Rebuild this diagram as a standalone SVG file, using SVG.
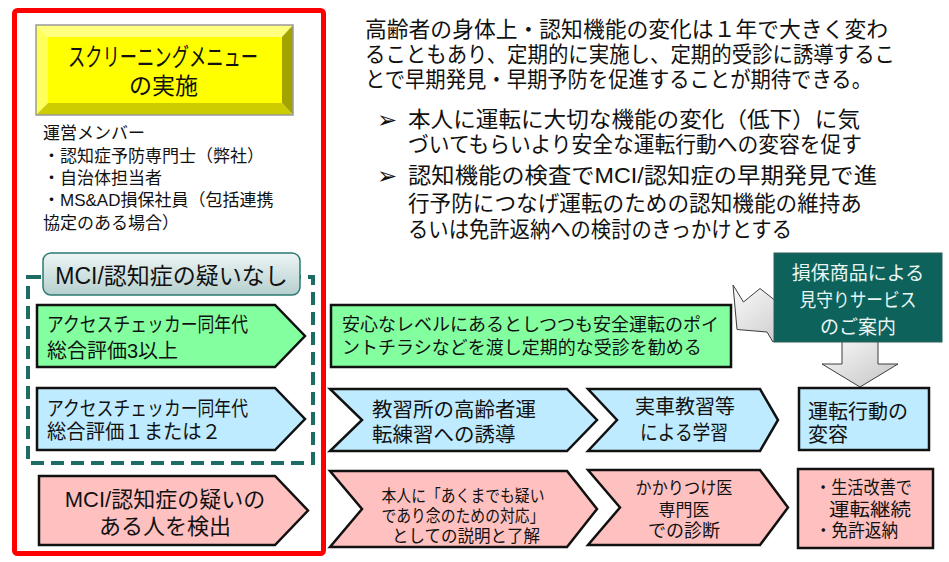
<svg xmlns="http://www.w3.org/2000/svg" width="949" height="562" viewBox="0 0 949 562">
<style>
text{font-family:"Liberation Sans","Noto Sans CJK JP",sans-serif;fill:#111;}
.shape{stroke:#111;stroke-width:2.5;stroke-linejoin:miter;}
.green{fill:#84FFA0;}
.blue{fill:#BEEBFF;}
.pink{fill:#FFC0C0;}
.garrow{fill:url(#greyGrad);stroke:#3c3c3c;stroke-width:1;}
.p22{font-size:22px;}
.p20{font-size:20px;}
.p17{font-size:17px;}
.mid{text-anchor:middle;}
.bul{font-family:"DejaVu Sans",sans-serif;font-size:24px;}
</style>
<defs>
<linearGradient id="greyGrad" x1="0" y1="0" x2="1" y2="1">
<stop offset="0" stop-color="#FBFBFB"/>
<stop offset="1" stop-color="#C4C4C4"/>
</linearGradient>
<linearGradient id="labelGrad" x1="0" y1="0" x2="0" y2="1">
<stop offset="0" stop-color="#EEF5F5"/>
<stop offset="1" stop-color="#B5CFCE"/>
</linearGradient>
</defs>
<rect width="949" height="562" fill="#FFFFFF"/>

<g id="frame">
<rect x="14.5" y="10.5" width="309" height="543" rx="3" fill="none" stroke="#FF0000" stroke-width="5"/>
</g>

<g id="title">
<polygon points="36,25 293,25 282,37 48,37" fill="#FFFF80"/>
<polygon points="36,25 48,37 48,103 36,115" fill="#FFFF5A"/>
<polygon points="293,25 293,115 282,103 282,37" fill="#A3A300"/>
<polygon points="36,115 293,115 282,103 48,103" fill="#CCCC00"/>
<rect x="48" y="37" width="234" height="66" fill="#FFFF00"/>
<rect x="36" y="25" width="257" height="90" fill="none" stroke="#9A9A9A" stroke-width="1.5"/>
<text font-size="25"><tspan x="68" y="66" textLength="190" lengthAdjust="spacingAndGlyphs">スクリーニングメニュー</tspan></text>
<text font-size="23"><tspan x="129" y="94">の実施</tspan></text>
</g>

<g id="members">
<text class="p17"><tspan x="43" y="139">運営メンバー</tspan><tspan x="43" y="162">・認知症予防専門士（弊社）</tspan><tspan x="43" y="184">・自治体担当者</tspan><tspan x="43" y="206">・MS&amp;AD損保社員（包括連携</tspan><tspan x="43" y="229">協定のある場合）</tspan></text>
</g>

<g id="intro">
<text class="p22"><tspan x="365" y="36.5" textLength="523" lengthAdjust="spacingAndGlyphs">高齢者の身体上・認知機能の変化は１年で大きく変わ</tspan><tspan x="365" y="62" textLength="530" lengthAdjust="spacingAndGlyphs">ることもあり、定期的に実施し、定期的受診に誘導するこ</tspan><tspan x="365" y="87" textLength="507" lengthAdjust="spacingAndGlyphs">とで早期発見・早期予防を促進することが期待できる。</tspan></text>
<text class="bul"><tspan x="377" y="128">➢</tspan><tspan x="377" y="184">➢</tspan></text>
<text class="p22"><tspan x="408" y="126.5" textLength="452" lengthAdjust="spacingAndGlyphs">本人に運転に大切な機能の変化（低下）に気</tspan><tspan x="408" y="151.5" textLength="454" lengthAdjust="spacingAndGlyphs">づいてもらいより安全な運転行動への変容を促す</tspan></text>
<text class="p22"><tspan x="408" y="182.5" textLength="469" lengthAdjust="spacingAndGlyphs">認知機能の検査でMCI/認知症の早期発見で進</tspan><tspan x="408" y="211" textLength="454" lengthAdjust="spacingAndGlyphs">行予防につなげ運転のための認知機能の維持あ</tspan><tspan x="408" y="237" textLength="384" lengthAdjust="spacingAndGlyphs">るいは免許返納への検討のきっかけとする</tspan></text>
</g>

<g id="no-suspicion-group">
<rect x="28" y="277" width="285" height="186" fill="none" stroke="#1C6C63" stroke-width="4" stroke-dasharray="13 7"/>
</g>

<g id="no-suspicion-label">
<rect x="43" y="253" width="257" height="42" rx="8" fill="url(#labelGrad)" stroke="#2B7A72" stroke-width="1.5"/>
<text x="171.5" y="284" font-size="23" class="mid">MCI/認知症の疑いなし</text>
</g>

<g id="score3">
<polygon class="shape green" points="37,305 275,305 305,336 275,367 37,367"/>
<text class="p20"><tspan x="47" y="332" textLength="201" lengthAdjust="spacingAndGlyphs">アクセスチェッカー同年代</tspan><tspan x="47" y="358">総合評価3以上</tspan></text>
</g>

<g id="score12">
<polygon class="shape blue" points="37,388 275,388 305,419 275,450 37,450"/>
<text class="p20"><tspan x="47" y="415.5" textLength="201" lengthAdjust="spacingAndGlyphs">アクセスチェッカー同年代</tspan><tspan x="47" y="439" textLength="174" lengthAdjust="spacingAndGlyphs">総合評価１または２</tspan></text>
</g>

<g id="suspected">
<polygon class="shape pink" points="39,476 275,476 308,510.5 275,545 39,545"/>
<text font-size="22" class="mid"><tspan x="165" y="506.5">MCI/認知症の疑いの</tspan><tspan x="165" y="533.5">ある人を検出</tspan></text>
</g>

<g id="connectors">
<polygon class="garrow" points="733,285 743.5,302 760,288.5 800,320 773,342 767,332 737,329.5"/>
<polygon class="garrow" points="842,338 878,338 878,364 898,364 860,387 822,364 842,364"/>
</g>

<g id="leaflet">
<rect class="shape green" x="331" y="305" width="400" height="62"/>
<text font-size="18"><tspan x="342" y="331">安心なレベルにあるとしつつも安全運転のポイ</tspan><tspan x="342" y="354">ントチラシなどを渡し定期的な受診を勧める</tspan></text>
</g>

<g id="insurance">
<rect x="774" y="253" width="168" height="89" fill="#0D625C" stroke="#2F5F5A" stroke-width="1"/>
<text font-size="19" class="mid" style="fill:#EAF5F2"><tspan x="858" y="280">損保商品による</tspan><tspan x="858" y="307" textLength="117" lengthAdjust="spacingAndGlyphs">見守りサービス</tspan><tspan x="858" y="333.5">のご案内</tspan></text>
</g>

<g id="driving-school">
<polygon class="shape blue" points="330,389 567,389 597,420 567,451 330,451 362,420"/>
<text font-size="20.5"><tspan x="372" y="416.5">教習所の高齢者運</tspan><tspan x="372" y="441.5">転練習への誘導</tspan></text>
</g>

<g id="practice">
<polygon class="shape blue" points="588,389 760,389 778,420 760,451 588,451 617,420"/>
<text class="p20 mid"><tspan x="685" y="413.5">実車教習等</tspan><tspan x="684" y="440" textLength="88" lengthAdjust="spacingAndGlyphs">による学習</tspan></text>
</g>

<g id="behavior-change">
<rect class="shape blue" x="799" y="388" width="130" height="62"/>
<text class="p20"><tspan x="808" y="418.5">運転行動の</tspan><tspan x="808" y="442">変容</tspan></text>
</g>

<g id="explanation">
<polygon class="shape pink" points="330,471 567,471 597,509 567,547 330,547 362,509"/>
<text class="p17 mid"><tspan x="463" y="502" textLength="163" lengthAdjust="spacingAndGlyphs">本人に「あくまでも疑い</tspan><tspan x="463" y="522" textLength="163" lengthAdjust="spacingAndGlyphs">であり念のための対応」</tspan><tspan x="466" y="542" textLength="148" lengthAdjust="spacingAndGlyphs">としての説明と了解</tspan></text>
</g>

<g id="diagnosis">
<polygon class="shape pink" points="588,470 760,470 788,507.5 760,545 588,545 620,507.5"/>
<text class="p17 mid"><tspan x="684" y="494" textLength="97" lengthAdjust="spacingAndGlyphs">かかりつけ医</tspan><tspan x="684" y="515.5">専門医</tspan><tspan x="684" y="537" font-size="18">での診断</tspan></text>
</g>

<g id="outcome">
<rect class="shape pink" x="798" y="469" width="135" height="79"/>
<text font-size="18"><tspan x="815" y="494" textLength="97" lengthAdjust="spacingAndGlyphs">・生活改善で</tspan><tspan x="829" y="515.5" textLength="82" lengthAdjust="spacingAndGlyphs">運転継続</tspan><tspan x="815" y="537" textLength="83" lengthAdjust="spacingAndGlyphs">・免許返納</tspan></text>
</g>
</svg>
